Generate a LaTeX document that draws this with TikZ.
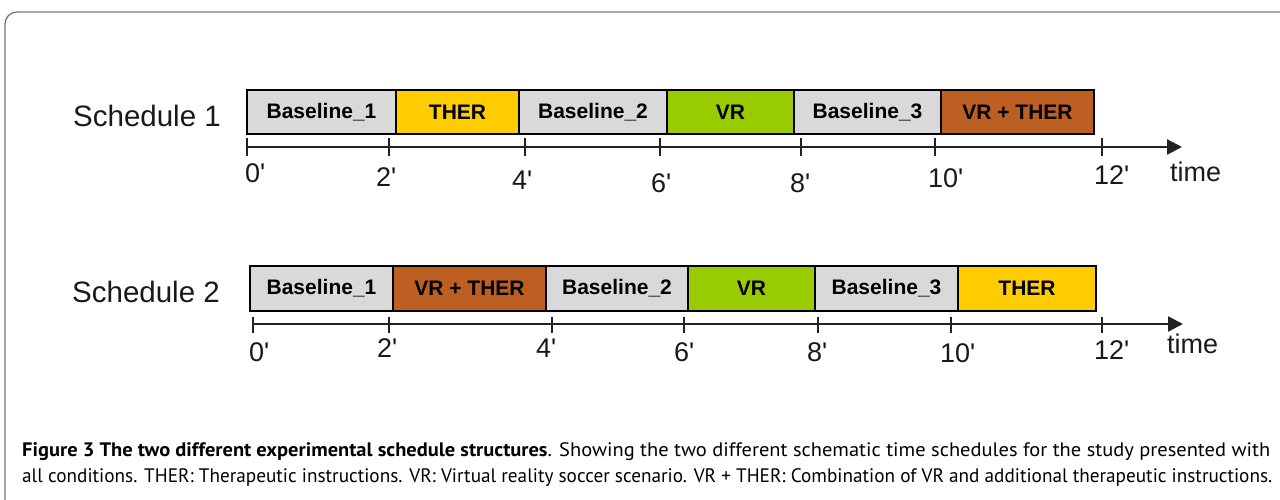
\documentclass[tikz,border=0pt]{standalone}
\usepackage{fontspec}
\usepackage{graphicx}
\setmainfont{Liberation Sans}
\newfontfamily\capfont{PT Sans}
\usetikzlibrary{arrows.meta}
\definecolor{segGray}{HTML}{D9D9D9}
\definecolor{segYellow}{HTML}{FFCC00}
\definecolor{segGreen}{HTML}{99CC00}
\definecolor{segBrown}{HTML}{BD5F22}
\definecolor{frameGray}{HTML}{7A7A7A}
\definecolor{axisDark}{HTML}{222222}
\tikzset{
  seg/.style={draw=black, line width=1.8pt, inner sep=0pt, minimum height=44pt,
    font=\fontsize{21}{21}\selectfont\bfseries, text=black},
  rowlabel/.style={inner sep=0pt, font=\fontsize{29.5}{29.5}\selectfont, text=black!90},
  ticklabel/.style={inner sep=0pt, anchor=west, font=\fontsize{27}{27}\selectfont, text=black!90},
  axisline/.style={draw=axisDark, line width=2.2pt, -{Triangle[length=15pt,width=15pt]}},
  tickmark/.style={draw=axisDark, line width=1.3pt},
  captext/.style={inner sep=0pt, anchor=west, font=\capfont\fontsize{19.5}{19.5}\selectfont, text=black}
}
\begin{document}
\begin{tikzpicture}[x=1pt,y=-1pt]
\useasboundingbox (0,0) rectangle (1280,500);
\fill[white] (0,0) rectangle (1280,500);
% frame
\draw[frameGray, line width=1.3pt, rounded corners=12pt] (5,12) rectangle (1300,530);

% ---------- Schedule 1 ----------
\node[rowlabel, anchor=west] (r1) at (73,116) {Schedule 1};
\node[seg, fill=segGray,   minimum width=149pt] (a1) at (321.5,112) {Baseline\_1};
\node[seg, fill=segYellow, minimum width=123pt] (a2) at (457.5,112) {THER};
\node[seg, fill=segGray,   minimum width=148pt] (a3) at (593,112) {Baseline\_2};
\node[seg, fill=segGreen,  minimum width=127pt] (a4) at (730.5,112) {VR};
\node[seg, fill=segGray,   minimum width=147pt] (a5) at (867.5,112) {Baseline\_3};
\node[seg, fill=segBrown,  minimum width=153pt] (a6) at (1017.5,112) {VR + THER};

\coordinate (ax1s) at (247,147);
\coordinate (ax1e) at (1182,147);
\draw[axisline] (ax1s) -- (ax1e);
\foreach \n/\x in {0/247,2/389,4/525,6/660,8/801,10/935,12/1102}{
  \coordinate (t1-\n) at (\x,147);
  \draw[tickmark] ([yshift=-9pt]t1-\n) -- ([yshift=9pt]t1-\n);
}
\node[ticklabel] (l1-0)  at (245,173) {0\textquotesingle};
\node[ticklabel] (l1-2)  at (376,177) {2\textquotesingle};
\node[ticklabel] (l1-4)  at (512,180) {4\textquotesingle};
\node[ticklabel] (l1-6)  at (651,183) {6\textquotesingle};
\node[ticklabel] (l1-8)  at (790,183) {8\textquotesingle};
\node[ticklabel] (l1-10) at (928,178) {10\textquotesingle};
\node[ticklabel] (l1-12) at (1094,175) {12\textquotesingle};
\node[ticklabel] (time1) at (1170,172) {time};

% ---------- Schedule 2 ----------
\node[rowlabel, anchor=west] (r2) at (72,292) {Schedule 2};
\node[seg, fill=segGray,   minimum width=143pt, minimum height=45pt] (b1) at (321.5,288.5) {Baseline\_1};
\node[seg, fill=segBrown,  minimum width=153pt, minimum height=45pt] (b2) at (469.5,288.5) {VR + THER};
\node[seg, fill=segGray,   minimum width=142pt, minimum height=45pt] (b3) at (617,288.5) {Baseline\_2};
\node[seg, fill=segGreen,  minimum width=127pt, minimum height=45pt] (b4) at (751.5,288.5) {VR};
\node[seg, fill=segGray,   minimum width=143pt, minimum height=45pt] (b5) at (886.5,288.5) {Baseline\_3};
\node[seg, fill=segYellow, minimum width=138pt, minimum height=45pt] (b6) at (1027,288.5) {THER};

\coordinate (ax2s) at (253,324);
\coordinate (ax2e) at (1183,324);
\draw[axisline] (ax2s) -- (ax2e);
\foreach \n/\x in {0/253,2/389,4/552,6/684,8/818,10/951,12/1102}{
  \coordinate (t2-\n) at (\x,324);
  \draw[tickmark] ([yshift=-9pt]t2-\n) -- ([yshift=7pt]t2-\n);
}
\node[ticklabel] (l2-0)  at (249,352) {0\textquotesingle};
\node[ticklabel] (l2-2)  at (377,348) {2\textquotesingle};
\node[ticklabel] (l2-4)  at (536,348) {4\textquotesingle};
\node[ticklabel] (l2-6)  at (674,352) {6\textquotesingle};
\node[ticklabel] (l2-8)  at (807,352) {8\textquotesingle};
\node[ticklabel] (l2-10) at (940,353) {10\textquotesingle};
\node[ticklabel] (l2-12) at (1094,350) {12\textquotesingle};
\node[ticklabel] (time2) at (1167,344) {time};

% ---------- caption ----------
\node[captext] (cap1) at (22,452) {\resizebox{1248pt}{\height}{\textbf{Figure 3 The two different experimental schedule structures}. Showing the two different schematic time schedules for the study presented with}};
\node[captext] (cap2) at (22,478) {\resizebox{1250pt}{\height}{all conditions. THER: Therapeutic instructions. VR: Virtual reality soccer scenario. VR + THER: Combination of VR and additional therapeutic instructions.}};
\end{tikzpicture}
\end{document}
